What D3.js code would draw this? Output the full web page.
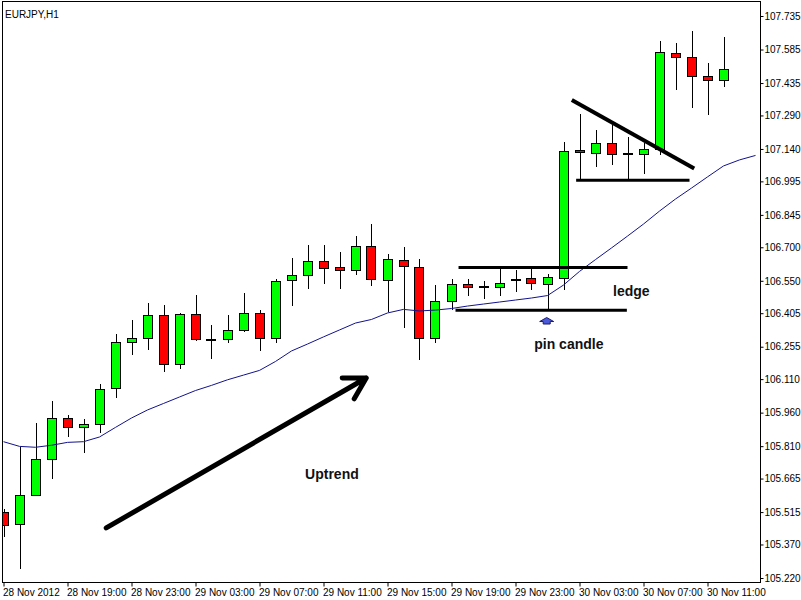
<!DOCTYPE html>
<html>
<head>
<meta charset="utf-8">
<script src="https://cdn.jsdelivr.net/npm/d3@7/dist/d3.min.js"></script>
<style>
  html, body { margin: 0; padding: 0; background: #fff; }
  svg { display: block; font-family: "Liberation Sans", Arial, sans-serif; }
</style>
</head>
<body>
<svg id="chart" width="801" height="600"></svg>
<script>
// EURJPY hourly bars, 28 Nov 2012 15:00 onward
const open  = [105.515,105.460,105.590,105.751,105.935,105.894,105.908,106.069,106.275,106.293,
               106.396,106.176,106.400,106.288,106.288,106.328,106.405,106.293,106.552,106.575,
               106.637,106.610,106.597,106.704,106.552,106.642,106.610,106.293,106.458,106.534,
               106.525,106.521,106.557,106.561,106.534,106.561,107.134,107.121,107.165,107.119,
               107.116,107.138,107.568,107.550,107.465,107.447];
const high  = [105.528,105.808,105.915,106.012,105.949,105.930,106.088,106.312,106.375,106.451,
               106.442,106.406,106.486,106.352,106.397,106.495,106.419,106.557,106.652,106.710,
               106.710,106.679,106.750,106.804,106.669,106.701,106.646,106.530,106.557,106.557,
               106.548,106.606,106.597,106.606,106.579,107.171,107.295,107.224,107.246,107.192,
               107.165,107.622,107.613,107.667,107.523,107.640];
const low   = [105.405,105.262,105.588,105.664,105.852,105.781,105.868,106.027,106.219,106.240,
               106.143,106.155,106.282,106.201,106.273,106.320,106.237,106.270,106.439,106.515,
               106.537,106.515,106.575,106.525,106.412,106.337,106.194,106.270,106.418,106.481,
               106.467,106.481,106.499,106.507,106.418,106.507,107.004,107.061,107.067,107.004,
               107.027,107.112,107.403,107.322,107.291,107.416];
const close = [105.457,105.590,105.751,105.935,105.894,105.908,106.064,106.275,106.293,106.396,
               106.176,106.400,106.288,106.288,106.328,106.405,106.293,106.548,106.575,106.637,
               106.606,106.597,106.704,106.557,106.646,106.615,106.293,106.458,106.534,106.521,
               106.525,106.539,106.557,106.539,106.566,107.130,107.125,107.165,107.116,107.119,
               107.138,107.573,107.550,107.465,107.447,107.497];

// moving average (drawn shifted two bars forward)
const movingAvg = [105.830,105.809,105.805,105.814,105.827,105.830,105.851,105.894,105.936,105.972,
                   106.001,106.030,106.059,106.082,106.107,106.128,106.149,106.189,106.236,106.267,
                   106.299,106.330,106.361,106.377,106.406,106.422,106.415,106.419,106.426,106.437,
                   106.446,106.455,106.464,106.473,106.484,106.531,106.592,106.645,106.697,106.750,
                   106.804,106.862,106.916,106.965,107.015,107.064,107.091,107.111];

// axis labels
const priceTicks = [107.735,107.585,107.435,107.290,107.140,106.995,106.845,106.700,106.550,
                    106.405,106.255,106.110,105.960,105.810,105.665,105.515,105.370,105.220];
const timeTickBars = [0,4,8,12,16,20,24,28,32,36,40,44];
const timeTickLabels = ["28 Nov 2012","28 Nov 19:00","28 Nov 23:00","29 Nov 03:00","29 Nov 07:00",
                        "29 Nov 11:00","29 Nov 15:00","29 Nov 19:00","29 Nov 23:00","30 Nov 03:00",
                        "30 Nov 07:00","30 Nov 11:00"];

// hand-drawn study objects, in bar / price units
const ledgeLines = [
  {from: 28.44, to: 39.00, price: 106.610},
  {from: 28.25, to: 38.96, price: 106.418}
];
const flagBase = {from: 35.79, to: 42.875, price: 107.000};
const flagTop = {bar1: 35.52, price1: 107.359, bar2: 43.17, price2: 107.053};
const trendArrow = {bar1: 6.42, price1: 105.444, bar2: 22.67, price2: 106.115};
const pinMark = {bar: 33.95, price: 106.370};
const notes = [
  {text: "Uptrend",    bar: 18.85, price: 105.663},
  {text: "ledge",      bar: 38.10, price: 106.482},
  {text: "pin candle", bar: 33.17, price: 106.245}
];

const svg = d3.select("#chart");
const plot = {left: 2.5, top: 1.5, right: 760.5, bottom: 582.5};

const x = d3.scaleLinear().domain([0, 45]).range([3.5, 723.5]);
const y = d3.scaleLinear().domain([105.220, 107.735]).range([578, 16]);

svg.append("defs").append("clipPath").attr("id", "plotClip")
  .append("rect")
  .attr("x", plot.left + 0.5).attr("y", plot.top + 0.5)
  .attr("width", plot.right - plot.left - 1).attr("height", plot.bottom - plot.top - 1);

const bars = d3.range(open.length).map(i => ({
  i, o: open[i], h: high[i], l: low[i], c: close[i]
}));

const g = svg.append("g").attr("clip-path", "url(#plotClip)");

// candles
const candles = g.append("g").attr("shape-rendering", "crispEdges");
candles.selectAll("line.wick").data(bars).join("line")
  .attr("class", "wick")
  .attr("x1", d => Math.round(x(d.i)) + 0.5).attr("x2", d => Math.round(x(d.i)) + 0.5)
  .attr("y1", d => y(d.h)).attr("y2", d => y(d.l))
  .attr("stroke", "#000").attr("stroke-width", 1);
candles.selectAll("rect.body").data(bars).join("rect")
  .attr("class", "body")
  .attr("x", d => Math.round(x(d.i)) - 4.5)
  .attr("width", 9)
  .attr("y", d => y(Math.max(d.o, d.c)))
  .attr("height", d => Math.max(1, Math.abs(y(d.o) - y(d.c))))
  .attr("fill", d => d.c >= d.o ? "#00ff00" : "#ff0000")
  .attr("stroke", "#000").attr("stroke-width", 1);

// moving average
g.append("path")
  .datum(movingAvg)
  .attr("fill", "none")
  .attr("stroke", "#12128c")
  .attr("stroke-width", 1)
  .attr("d", d3.line().x((d, i) => x(i)).y(d => y(d)));

// study objects
const ann = svg.append("g");
ann.selectAll("line.ledge").data(ledgeLines).join("line")
  .attr("class", "ledge")
  .attr("x1", d => x(d.from)).attr("x2", d => x(d.to))
  .attr("y1", d => y(d.price)).attr("y2", d => y(d.price))
  .attr("stroke", "#000").attr("stroke-width", 3);

ann.append("line")
  .attr("x1", x(flagBase.from)).attr("x2", x(flagBase.to))
  .attr("y1", y(flagBase.price)).attr("y2", y(flagBase.price))
  .attr("stroke", "#000").attr("stroke-width", 3);

ann.append("line")
  .attr("x1", x(flagTop.bar1)).attr("y1", y(flagTop.price1))
  .attr("x2", x(flagTop.bar2)).attr("y2", y(flagTop.price2))
  .attr("stroke", "#000").attr("stroke-width", 4);

// trend arrow with open head
{
  const x1 = x(trendArrow.bar1), y1 = y(trendArrow.price1);
  const x2 = x(trendArrow.bar2), y2 = y(trendArrow.price2);
  const back = Math.atan2(y1 - y2, x1 - x2);
  const len = 24, spread = Math.PI / 6;
  const wing = a => [x2 + len * Math.cos(a), y2 + len * Math.sin(a)];
  const w1 = wing(back - spread), w2 = wing(back + spread);
  ann.append("path")
    .attr("d", `M${x1},${y1}L${x2},${y2}M${w1[0]},${w1[1]}L${x2},${y2}L${w2[0]},${w2[1]}`)
    .attr("fill", "none")
    .attr("stroke", "#000")
    .attr("stroke-width", 5)
    .attr("stroke-linecap", "round")
    .attr("stroke-linejoin", "round");
}

// up-arrow marker under the pin candle
ann.append("path")
  .attr("transform", `translate(${x(pinMark.bar)},${y(pinMark.price)})`)
  .attr("d", "M0,-3.5L7,0.5L3.5,0.5L3.5,3L-3.5,3L-3.5,0.5L-7,0.5Z")
  .attr("fill", "#4a5ad8")
  .attr("stroke", "#1c1c6a")
  .attr("stroke-width", 1);

ann.selectAll("text.note").data(notes).join("text")
  .attr("class", "note")
  .attr("x", d => x(d.bar)).attr("y", d => y(d.price))
  .attr("font-size", 14).attr("font-weight", "bold")
  .attr("fill", "#111")
  .text(d => d.text);

// frame
svg.append("rect")
  .attr("x", plot.left).attr("y", plot.top)
  .attr("width", plot.right - plot.left).attr("height", plot.bottom - plot.top)
  .attr("fill", "none").attr("stroke", "#000").attr("stroke-width", 1);

// price axis
const yAxis = svg.append("g")
  .attr("transform", `translate(${plot.right},0)`)
  .call(d3.axisRight(y).tickValues(priceTicks).tickSize(3).tickPadding(1)
        .tickFormat(d3.format(".3f")));
yAxis.select(".domain").remove();
yAxis.selectAll("text").attr("font-size", 10).attr("font-family", "Liberation Sans, Arial, sans-serif").attr("fill", "#000");

// time axis
const xAxis = svg.append("g")
  .attr("transform", `translate(0,${plot.bottom})`)
  .call(d3.axisBottom(x).tickValues(timeTickBars).tickSize(4).tickPadding(2)
        .tickFormat((d, i) => timeTickLabels[i]));
xAxis.select(".domain").remove();
xAxis.selectAll("text")
  .attr("text-anchor", "start")
  .attr("dx", -1)
  .attr("font-size", 10).attr("font-family", "Liberation Sans, Arial, sans-serif").attr("fill", "#000");

// symbol / period caption
svg.append("text")
  .attr("x", 5).attr("y", 18)
  .attr("font-size", 10)
  .attr("fill", "#000")
  .text("EURJPY,H1");
</script>
</body>
</html>
